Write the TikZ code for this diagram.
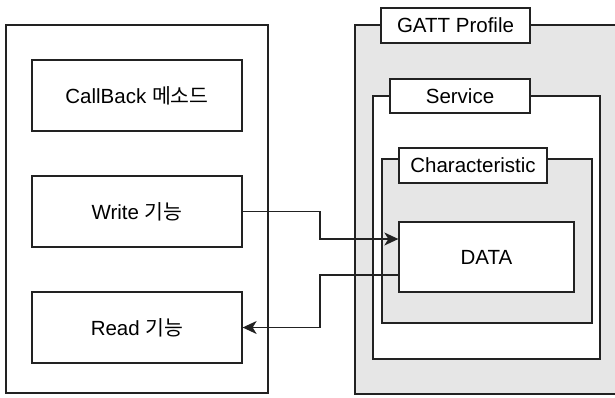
\documentclass[tikz,border=0pt]{standalone}
\usepackage{fontspec}
\setmainfont{Liberation Sans}
\newfontfamily\kr{Noto Sans CJK KR}
\usetikzlibrary{arrows.meta}
\definecolor{panel}{HTML}{E6E6E6}
\definecolor{ink}{HTML}{222222}
\tikzset{
  box/.style={draw=ink, line width=1.3pt, fill=white, inner sep=0pt, align=center,
              font=\fontsize{20.5}{24}\selectfont},
  graybox/.style={box, fill=panel},
  link/.style={draw=ink, line width=1.3pt, -{Stealth[length=14pt, width=13pt, inset=4pt]}},
}
\begin{document}
\begin{tikzpicture}[x=1pt, y=-1pt]
  \useasboundingbox (0,0) rectangle (615,397);
  \clip (0,0) rectangle (615,397);
  % application side
  \node[box, minimum width=262pt, minimum height=368pt] (app) at (137,209) {};
  \node[box, minimum width=210pt, minimum height=71pt] (cb) at (137,95.5) {CallBack {\kr 메소드}};
  \node[box, minimum width=210pt, minimum height=71pt] (wr) at (137,211.5) {Write {\kr 기능}};
  \node[box, minimum width=210pt, minimum height=71pt] (rd) at (137,327.5) {Read {\kr 기능}};
  % GATT hierarchy
  \node[graybox, minimum width=280pt, minimum height=369pt] (gatt) at (495,209.5) {};
  \node[box, minimum width=149pt, minimum height=35pt] (gattl) at (455.5,25.5) {GATT Profile};
  \node[box, minimum width=227pt, minimum height=263pt] (svc) at (486.5,227.5) {};
  \node[box, minimum width=140pt, minimum height=34pt] (svcl) at (460,96) {Service};
  \node[graybox, minimum width=210pt, minimum height=164pt] (chr) at (487,241) {};
  \node[box, minimum width=148pt, minimum height=35pt] (chrl) at (473,165.5) {Characteristic};
  \node[box, minimum width=175pt, minimum height=70pt] (data) at (486.5,257) {DATA};
  % data flow
  \draw[link] (wr.east) -- (320,211.5) |- ([yshift=18pt]data.west);
  \draw[link] ([yshift=-18pt]data.west) -- (320,275) |- (rd.east);
\end{tikzpicture}
\end{document}
